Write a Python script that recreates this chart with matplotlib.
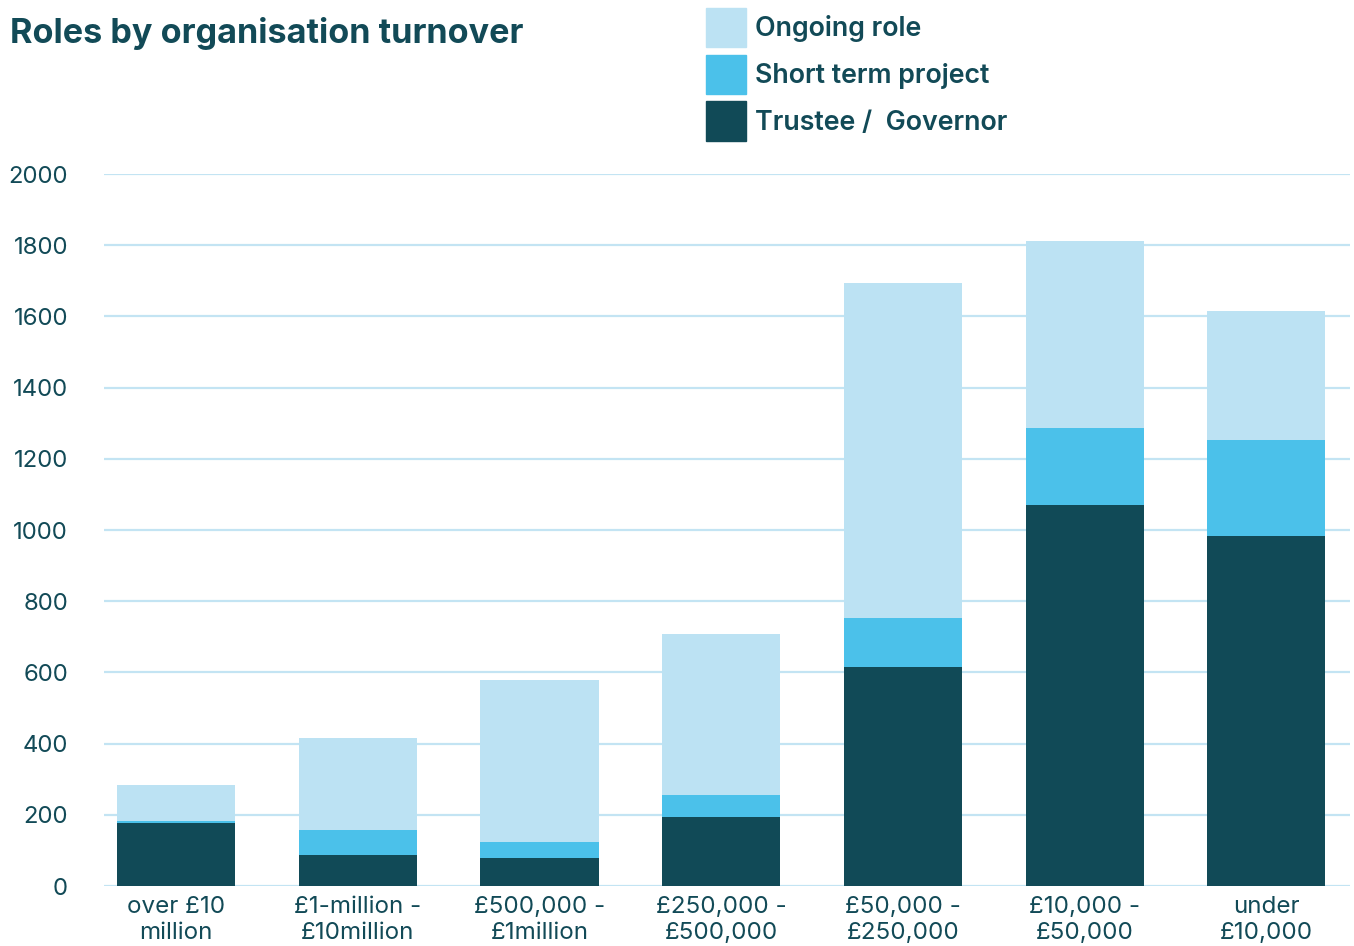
import matplotlib.pyplot as plt
import numpy as np
from matplotlib.patches import Patch

plt.rcParams['font.family'] = ['Inter', 'DejaVu Sans']

# data
categories = ['over £10\nmillion', '£1-million -\n£10million', '£500,000 -\n£1million',
              '£250,000 -\n£500,000', '£50,000 -\n£250,000', '£10,000 -\n£50,000',
              'under\n£10,000']
trustee = [177, 87, 78, 193, 614, 1070, 983]
short_term = [5, 70, 45, 62, 140, 217, 270]
ongoing = [101, 258, 457, 454, 941, 526, 361]
y_ticks = [0, 200, 400, 600, 800, 1000, 1200, 1400, 1600, 1800, 2000]

text_col = '#124a57'
c_trustee = '#114a57'
c_short = '#4bc1ea'
c_ongoing = '#bce2f3'
grid_col = '#c3e4f3'

fig = plt.figure(figsize=(13.54, 9.46), dpi=100)
ax = fig.add_axes([104 / 1354, 60 / 946, 1246 / 1354, 712 / 946])

x = np.arange(len(categories))
w = 0.65
bottom2 = np.array(trustee)
bottom3 = bottom2 + np.array(short_term)
ax.bar(x, trustee, w, color=c_trustee, zorder=3)
ax.bar(x, short_term, w, bottom=bottom2, color=c_short, zorder=3)
ax.bar(x, ongoing, w, bottom=bottom3, color=c_ongoing, zorder=3)

ax.set_ylim(0, 2000)
ax.set_xlim(-0.396, 6.46)
ax.set_yticks(y_ticks)
ax.set_xticks(x)
ax.set_xticklabels(categories, fontsize=17.4, color=text_col, linespacing=1.25)
ax.tick_params(axis='y', length=0, pad=26, labelsize=17.2, labelcolor=text_col)
ax.tick_params(axis='x', length=0, pad=7)
ax.yaxis.grid(True, color=grid_col, linewidth=1.6, zorder=0)
ax.set_axisbelow(True)
for s in ax.spines.values():
    s.set_visible(False)

fig.text(10 / 1354, 1 - 33 / 946, 'Roles by organisation turnover', fontsize=24.6,
         fontweight='bold', color=text_col, va='center', ha='left')

handles = [Patch(color=c_ongoing), Patch(color=c_short), Patch(color=c_trustee)]
labels = ['Ongoing role', 'Short term project', 'Trustee /  Governor']
leg = fig.legend(handles, labels, loc='upper left', bbox_to_anchor=(706 / 1354, 1 - 8 / 946),
                 frameon=False, fontsize=19.3, handlelength=1.49, handleheight=1.89,
                 labelspacing=0.27, handletextpad=0.33, borderpad=0, borderaxespad=0)
for t in leg.get_texts():
    t.set_color(text_col)
    t.set_fontweight('semibold')

fig.savefig('out.png', dpi=100)
